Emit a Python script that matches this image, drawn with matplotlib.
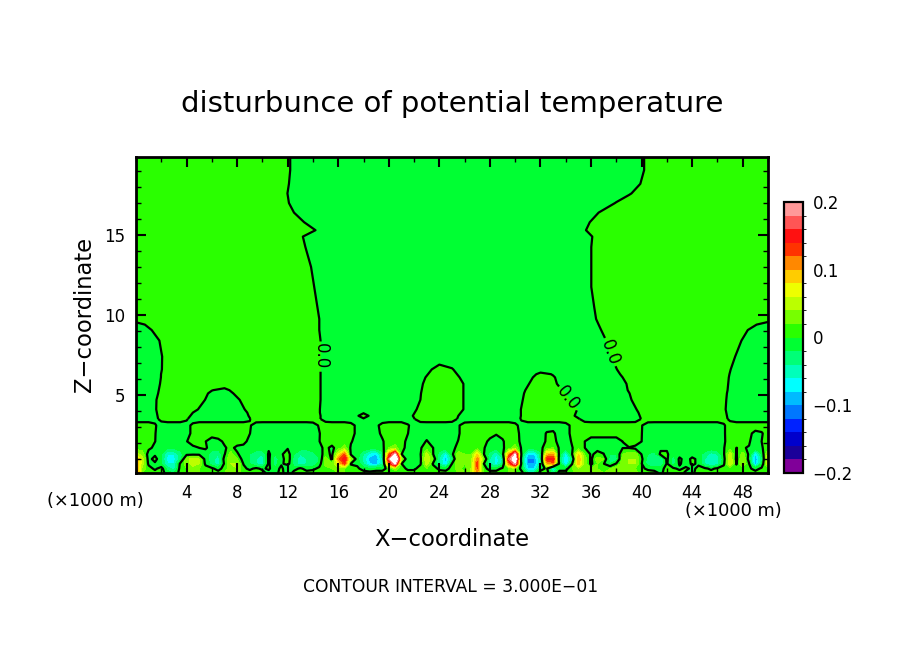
import numpy as np
import matplotlib
matplotlib.use('Agg')
from matplotlib import pyplot as plt
from matplotlib.colors import ListedColormap, BoundaryNorm
from matplotlib.cm import ScalarMappable
from matplotlib.ticker import MultipleLocator

# disturbance values, in units of 0.01
lower_x = [i * 0.5 for i in range(101)]
lower_z = [0.125, 0.4, 0.7, 1.0, 1.3, 1.7, 2.1, 2.6, 3.1, 3.5]
lower_rows = [
    [14,2,1,1,1,-1,-2,1,2,2,2,1,1,1,2,3,3,1,1,1,1,-1,-1,1,-2,1,1,1,1,1,1,1,2,2,1,1,1,1,1,1,1,1,1,1,1,1,1,1,1,1,1,2,2,4,10,2,1,1,1,2,2,1,-3,-3,1,1,-3,1,1,1,3,3,3,3,2,3,3,3,3,3,1,1,1,-.5,1,1,1,-.5,-.5,1,1,1,1,1,1,1,1,1,1,1,2],
    [12,3,1,-.5,1,-3,-5,1,2,3,2,1,.5,-1,1,3,4,.5,-.5,.5,-.5,.5,-2,1,-3,-1,.5,-1,-.5,.5,1,2,3,2,.5,.5,-1,-2,-1,-1,1,3,1,-.5,-.5,1,2,1,-.5,-1,1,3,1,4,12,1,-1,-1,.5,2,3,-1,-8,-8,-1,.5,-8,-1,-1,2,4,3,2,2,1,2,3,3,3,2,.5,-.5,-1,-.5,.5,.5,-.5,.5,-.5,.5,.5,-.5,.5,1,1,1,1,.5,-1,.5,2],
    [10,5,-.5,-.5,-2,-6,-6,.5,3,5,4,-.5,-3,-5,.5,4,4,-.1,-2,-4,-5,.5,-3,-.5,1,-3,-5,-4,-4,-1,3,2,7,13,-.1,-.5,-4,-8,-9,-4,11,20,.1,-2,-2,-.3,5,-.3,-4,-8,.1,4,2,3,13,.2,-4,-7,-3,11,19,-1,-10,-10,-4,9,11,-1,-8,-.2,9,3,-.5,2,.1,-2,.3,3,4,4,.1,-3,-4,-4,.3,-3,.3,-1,.3,-.3,-4,-6,-5,-.5,6,-.2,4,.2,-9,-2,6],
    [11,5,-1,1,-2,-7,-7,-3,3,5,4,-1,-3,-5,1,3,2,-1,-2,-4,-5,.5,-3,-1,1.5,-3,-5,-4,-4,-2,3,-.5,11,16,3,-1,-5,-9,-10,-4,16,30,4,-2,-2,-.5,6,2,-4,-9,-3,4,2,3,11,3,-4,-7,-4,16,24,-2,-10,-10,-4,14,15,-2,-9,-3,10,3,-.5,3,2,-3,-3,3,4,4,.5,-3,-4,-4,.5,-3,.5,-1,.5,-.5,-4,-6,-5,-1,6,-.5,4,-1,-10,-3,6],
    [5,3,-1,-.5,-2,-6,-6,-3,-.5,-.5,-.5,-1,-3,-4,-.2,3,.3,-1,-2,-4,-4,.5,-2,-.3,1,-2,-4,-4,-3,-1,1,-.5,6,12,-.3,-1,-4,-7,-8,-3,11,20,.1,-2,-2,-.2,5,.1,-3,-7,-.5,3,2,2,8,.2,-3,-6,-1,10,20,-.5,-8,-8,-3,9,10,-1,-7,-.1,8,2,-.3,.5,.05,-2,-2,2,3,3,-.1,-2,-3,.5,.5,-2,-1,-1,-1,-1,-3,-5,-4,-.3,5,-.2,3,-.5,-8,-2,5],
    [1,1,.5,-.5,-1,-1.5,-1.5,-1,-1,-.5,.01,.3,-1,-1,-.2,.5,-.5,-.5,-.5,-.5,-.5,-.5,-.5,-.2,-.2,-.5,-1,-1,-.5,-.5,.5,-.5,1,3,-.3,-.5,-.5,-1,-1,-.5,2,3,.5,-.5,-.5,-.2,1,.01,-.5,-1,-.5,.5,.5,.5,1,.1,-.5,-1,-.3,1,3,-.3,-1,-1,-.5,1,2,-.3,-1,-.1,1,.01,-.5,-.5,-.5,-.5,-.5,-.1,-.1,-.5,-.5,-.5,-.5,-.5,-.5,-.5,-.5,-.5,-.5,-.5,-.5,-.5,-.5,-.1,1,-.01,.1,-.1,-1,-.2,1],
    [1,1,1,.05,-1,-1,-1,-.5,-.1,1,1,.05,-1,-.5,.3,1,1,.5,-.5,-1,-1,-1,-1,-1,-1,-1,-1,-1,-1,-.05,1,1,1,1,.2,-.8,-1,-1,-1,-.2,1,1,.6,-.4,-1,-1,.2,-1,-1,-1,-.5,.05,1,1,1,.4,-.3,-1,-.2,.8,1,-.5,-1,-1,-1,.3,.5,-.5,-1,.2,1,.01,-1,-1,-1,-1,-1,.01,1,1,.01,-1,-1,-1,-1,-1,-1,-1,-1,-1,-1,-1,-1,-.3,1,1,1,.2,-1,.01,1],
    [1]*3 + [.1] + [-1]*4 + [-.6,.4] + [1]*8 + [.05] + [-1]*10 + [-.1] + [1]*4 + [.6,-.4,-1,-1,-.6,.4] + [1]*3 + [.05] + [-1]*7 + [-.2,.8] + [1]*3 + [.5,.2,.5] + [1] + [.6,-.4] + [-1]*3 + [.2,.4,-1,-.6,.4] + [1]*10 + [.05] + [-1]*12 + [-.2,.8,1,1,.4,-.5,-.2,1],
    [1]*3 + [.2,-.8] + [-1]*3 + [-.6,.4] + [1]*8 + [.2,-.8] + [-1]*8 + [-.8,.2] + [1]*4 + [.6,-.4] + [-1]*2 + [-.4,.6] + [1]*3 + [.2,-.8] + [-1]*6 + [-.2,.8] + [1]*7 + [.4,-.6] + [-1]*6 + [-.6,.4] + [1]*10 + [.1,-.9] + [-1]*11 + [-.2,.8] + [1]*6,
    [-1]*3 + [-.5,.5] + [1]*3 + [.2,-.8] + [-1]*8 + [-.1,.9] + [1]*9 + [.2,-.8] + [-1]*13 + [-.1,.9] + [1]*4 + [.8,-.2] + [-1]*8 + [-.8,.2] + [1]*8 + [.2,-.8] + [-1]*7 + [-.9,.1] + [1]*12 + [.6,-.4] + [-1]*6,
]

upper_x = list(range(51))
upper_z = [3.5, 3.7, 3.9, 4.1, 4.7, 5.1, 5.3, 5.7, 6.1, 6.3, 6.6, 7.4, 8.4, 9.06, 9.4, 9.75,
           10.5, 11.75, 13, 14.25, 14.9, 15.3, 15.8, 16.4, 17, 17.6, 18.2, 19.06, 19.875]
upper_rows = [
    [-1,-.75,.25,1,.1,-.9,-1,-1,-1,-.05,.95,1,1,1,.6,-.4,-1,-1,-.1,-1,-1,-1,-.05,.95,1,.4,-.6,-1,-1,-1,-.4,.6,1,1,1,.1,-.9,-1,-1,-.95,.05,1,1,1,1,1,.8,-.2,-1,-1,-1],
    [-1,-.7,.3,1,.3,-.7,-1,-1,-.9,.1,1,1,1,1,.6,-.4,-1,-.6,.4,-.6,-1,-.9,.1,1,1,.5,-.5,-1,-1,-1,-.45,.55,1,1,.7,-.3,-1,-1,-1,-.85,.15,1,1,1,1,1,.75,-.25,-1,-1,-1],
    [-1,-.65,.35,1,.5,-.5,-1,-1,-.8,.2,1,1,1,1,.55,-.45,-1,-1,-.1,-1,-1,-1,-.05,.95,1,.7,-.3,-1,-1,-1,-.45,.55,1,1,.8,-.2,-1,-1,-1,-.75,.25,1,1,1,1,1,.7,-.3,-1,-1,-1],
    [-1,-.6,.4,1,.9,-.1,-1,-1,-.6,.4,1,1,1,1,.55,-.45,-1,-1,-1,-1,-1,-1,-.2,.8,1,.9,-.1,-1,-1,-1,-.45,.55,1,1,.9,-.1,-1,-1,-1,-.6,.4,1,1,1,1,1,.65,-.35,-1,-1,-1],
    [-1,-.62,.38,1,1,.46,-.54,-1,-.2,.8,1,1,1,1,.6,-.4,-1,-1,-1,-1,-1,-1,-.5,.5,1,.9,-.1,-1,-1,-1,-.6,.4,1,1,.3,-.7,-1,-1,-1,-.2,.8,1,1,1,1,1,.7,-.3,-1,-1,-1],
    [-1,-.75,.25,1,1,.7,-.3,-.7,.3,1,1,1,1,1,.6,-.4,-1,-1,-1,-1,-1,-1,-.55,.45,1,.9,-.1,-1,-1,-1,-.7,.3,1,.9,-.1,-1,-1,-1,-1,-.05,.95,1,1,1,1,1,.75,-.25,-1,-1,-1],
    [-1,-.8,.2,1,1,1,.05,-.45,.7,1,1,1,1,1,.6,-.4,-1,-1,-1,-1,-1,-1,-.6,.4,1,.9,-.1,-1,-1,-1,-.8,.2,1,.7,-.3,-1,-1,-1,-.9,.1,1,1,1,1,1,1,.8,-.2,-1,-1,-1],
    [-1,-.9,.1] + [1]*11 + [.6,-.4] + [-1]*6 + [-.7,.3,1,.9,-.1,-1,-1,-1,-1,-.1,.9,.3,-.7,-1,-1,-1,-.8,.2] + [1]*6 + [.85,-.15,-1,-1,-1],
    [-1,-.97,.03] + [1]*11 + [.6,-.4] + [-1]*6 + [-.9,.1,1,.6,-.4,-1,-1,-1,-1,-.4,.6,.15,-.85,-1,-1,-1,-.5,.5] + [1]*6 + [.9,-.1,-1,-1,-1],
    [-1,-.98,.02] + [1]*11 + [.6,-.4] + [-1]*7 + [-.1,.9,.4,-.6] + [-1]*5 + [.5,-.1] + [-1]*4 + [-.3,.7] + [1]*6 + [.95,-.05,-1,-1,-1],
    [-1,-1,-.05,.95] + [1]*10 + [.6,-.4] + [-1]*7 + [-.4,.6,.1,-.9] + [-1]*11 + [-.05,.95] + [1]*7 + [.05,-.95,-1,-1],
    [-1,-1,-.07,.93] + [1]*10 + [.6,-.4] + [-1]*21 + [-.6,.4] + [1]*8 + [.4,-.6,-1,-1],
    [-1,-.85,.15] + [1]*11 + [.6,-.4] + [-1]*21 + [-.2,.8] + [1]*8 + [.9,-.1,-1,-1],
    [-1,-.24,.76] + [1]*11 + [.5,-.5] + [-1]*20 + [-.8,.2] + [1]*10 + [.4,-.6,-1],
    [-.7,.3] + [1]*12 + [.5,-.5] + [-1]*20 + [-.6,.4] + [1]*11 + [.1,-.9],
    [1]*14 + [.5,-.5] + [-1]*20 + [-.4,.6] + [1]*13,
    [1]*14 + [.35,-.65] + [-1]*20 + [-.25,.75] + [1]*13,
    [1]*14 + [.1,-.9] + [-1]*20 + [-.02,.98] + [1]*13,
    [1]*13 + [.85,-.15] + [-1]*21 + [-.02,.98] + [1]*13,
    [1]*13 + [.4,-.6] + [-1]*21 + [-.02,.98] + [1]*13,
    [1]*13 + [.2,-.8] + [-1]*21 + [-.1,.9] + [1]*13,
    [1]*14 + [.2,-.8] + [-1]*19 + [-.6,.4] + [1]*14,
    [1]*13 + [.3,-.7] + [-1]*20 + [-.9,.1] + [1]*14,
    [1]*12 + [.5,-.5] + [-1]*22 + [-.6,.4] + [1]*13,
    [1]*12 + [.1,-.9] + [-1]*23 + [-.9,.1] + [1]*12,
    [1]*11 + [.98,-.02] + [-1]*26 + [-.2,.8] + [1]*10,
    [1]*12 + [.1,-.9] + [-1]*25 + [-.9,.1] + [1]*10,
    [1]*12 + [.2,-.8] + [-1]*26 + [-.2,.8] + [1]*9,
    [1]*12 + [.2,-.8] + [-1]*26 + [-.2,.8] + [1]*9,
]

bar_colors = ['#800099', '#1a0099', '#0000cc', '#0022ff', '#0077ff', '#00bbff', '#00ffff',
              '#00ffbb', '#00ff77', '#00ff33', '#2aff00', '#77ff00', '#bbff00', '#eeff00',
              '#ffcc00', '#ff8800', '#ff3300', '#ff1111', '#ff5555', '#ff9999']
levels = np.linspace(-0.2, 0.2, 21)
bar_ticks = [-0.2, -0.1, 0, 0.1, 0.2]
bar_labels = ['\u22120.2', '\u22120.1', '0', '0.1', '0.2']
x_ticks = list(range(4, 49, 4))
z_ticks = [5, 10, 15]

W, H = 904, 654
cmap = ListedColormap(bar_colors)
cmap.set_over('white')
cmap.set_under('#800099')
norm = BoundaryNorm(levels, cmap.N, extend='neither', clip=False)

fig = plt.figure(figsize=(W / 100, H / 100), dpi=100)
ax = fig.add_axes([136 / W, 1 - 473 / H, 632 / W, 316 / H])

low = np.array(lower_rows) * 0.01
up = np.array(upper_rows) * 0.01
ax.contourf(lower_x, lower_z, low, levels=levels, cmap=cmap, norm=norm, extend='max', antialiased=False)
ax.contourf(upper_x, upper_z, up, levels=levels, cmap=cmap, norm=norm, extend='max', antialiased=False)
ax.contour(lower_x, lower_z, low, levels=[0], colors='black', linewidths=1.6, linestyles='solid')
cs = ax.contour(upper_x, upper_z, up, levels=[0], colors='black', linewidths=1.6, linestyles='solid')
ax.clabel(cs, fmt='%.1f', fontsize=12, inline=True, inline_spacing=2,
          manual=[(14.6, 7.4), (37.6, 7.7), (33.9, 4.6)])

ax.set_xlim(0, 50)
ax.set_ylim(0.125, 19.875)
ax.set_xticks(x_ticks)
ax.set_yticks(z_ticks)
ax.xaxis.set_minor_locator(MultipleLocator(2))
ax.yaxis.set_minor_locator(MultipleLocator(1))
ax.tick_params(which='major', direction='in', length=7, width=1.5, top=True, right=True, labelsize=12, pad=8)
ax.tick_params(which='minor', direction='in', length=3.5, width=1, top=True, right=True)
for s in ax.spines.values():
    s.set_linewidth(2)

cax = fig.add_axes([784 / W, 1 - 473 / H, 19 / W, 271 / H])
sm = ScalarMappable(norm=BoundaryNorm(levels, cmap.N), cmap=ListedColormap(bar_colors))
cb = fig.colorbar(sm, cax=cax, ticks=bar_ticks)
cb.ax.set_yticklabels(bar_labels)
cb.ax.tick_params(length=0, labelsize=12, pad=7)
cb.outline.set_linewidth(1.6)


def ptext(px, py, s, **kw):
    fig.text(px / W, 1 - py / H, s, ha='center', va='center', **kw)


ptext(452, 104, 'disturbunce of potential temperature', fontsize=21)
ptext(452, 540, 'X\u2212coordinate', fontsize=16.3)
ptext(84, 314, 'Z\u2212coordinate', fontsize=16.3, rotation=90)
ptext(95, 501, '(\u00d71000 m)', fontsize=12.8)
ptext(733, 511, '(\u00d71000 m)', fontsize=12.8)
ptext(451, 587, 'CONTOUR INTERVAL = 3.000E\u221201', fontsize=12.3)

fig.savefig('out.png', dpi=100)
